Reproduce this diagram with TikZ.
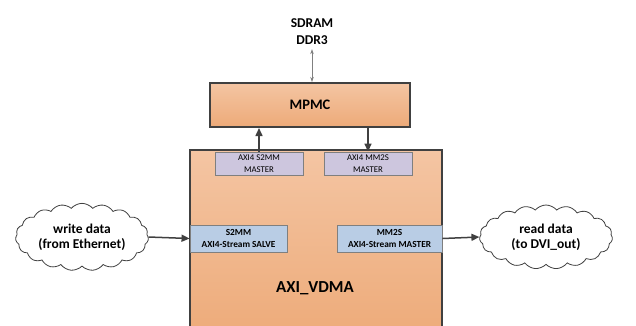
\documentclass[tikz,border=0pt]{standalone}
\usepackage{fontspec}
\setmainfont{Carlito}
\usetikzlibrary{shapes.symbols,arrows.meta}
\definecolor{edge}{HTML}{404040}
\definecolor{smalledge}{HTML}{7F7F7F}
\definecolor{orangetop}{HTML}{F4C5A3}
\definecolor{orangebot}{HTML}{EDAA78}
\definecolor{purplefill}{HTML}{CDC6DE}
\definecolor{bluefill}{HTML}{B9CDE5}
\tikzset{
  bigbox/.style={draw=edge, line width=2pt, top color=orangetop, bottom color=orangebot, inner sep=0pt},
  masterbox/.style={draw=smalledge, line width=0.9pt, fill=purplefill, minimum width=88pt, minimum height=23pt, inner sep=0pt, align=center, font=\fontsize{8.8}{11.5}\selectfont},
  streambox/.style={draw=smalledge, line width=0.9pt, fill=bluefill, minimum height=27pt, inner sep=0pt, align=center, font=\fontsize{9.3}{12}\selectfont\bfseries},
  cloudnode/.style={cloud, draw=edge, line width=0.8pt, fill=white, cloud puffs=19, cloud puff arc=100, aspect=2.1, minimum width=133pt, minimum height=64pt, inner sep=0pt, align=center, font=\fontsize{13.5}{15}\selectfont\bfseries},
  arr/.style={draw=edge, line width=1.5pt, -{Triangle[length=8pt,width=7pt]}},
  thinarr/.style={draw=gray, line width=0.6pt, {Stealth[length=5pt,width=3.5pt]}-{Stealth[length=5pt,width=3.5pt]}}
}
\begin{document}
\begin{tikzpicture}[x=1pt,y=-1pt]
\useasboundingbox (0,0) rectangle (636,325);
\clip (0,0) rectangle (636,325);
\node[bigbox, minimum width=200pt, minimum height=44pt, font=\fontsize{14.5}{16}\selectfont\bfseries] (mpmc) at (310,105) {MPMC};
\node[align=center, inner sep=0pt, font=\fontsize{13.5}{17}\selectfont\bfseries] (sdram) at (312,32) {SDRAM\\DDR3};
\node[bigbox, minimum width=252pt, minimum height=192pt] (vdma) at (316,246) {};
\node[font=\fontsize{16.8}{18}\selectfont\bfseries, inner sep=0pt] (vdmalabel) at (315,288) {AXI\_VDMA};
\node[masterbox] (s2mmm) at (259,163.5) {AXI4 S2MM\\MASTER};
\node[masterbox] (mm2sm) at (368,163.5) {AXI4 MM2S\\MASTER};
\node[streambox, minimum width=97pt] (s2mms) at (238.5,238.5) {S2MM\\AXI4-Stream SALVE};
\node[streambox, minimum width=105pt] (mm2ss) at (389.5,238.5) {MM2S\\AXI4-Stream MASTER};
\node[cloudnode] (wcloud) at (82,237) {write data\\(from Ethernet)};
\node[cloudnode] (rcloud) at (546,237) {read data\\(to DVI\_out)};
\coordinate (sd) at ([yshift=-4pt]sdram.south);
\draw[thinarr] (sd) -- (sd |- mpmc.north);
\draw[arr] (s2mmm.north) -- (s2mmm.north |- mpmc.south);
\draw[arr] (mpmc.south -| mm2sm.north) -- (mm2sm.north);
\draw[arr] (wcloud.east) -- (s2mms.west);
\draw[arr] (mm2ss.east) -- (rcloud.west);
\end{tikzpicture}
\end{document}
